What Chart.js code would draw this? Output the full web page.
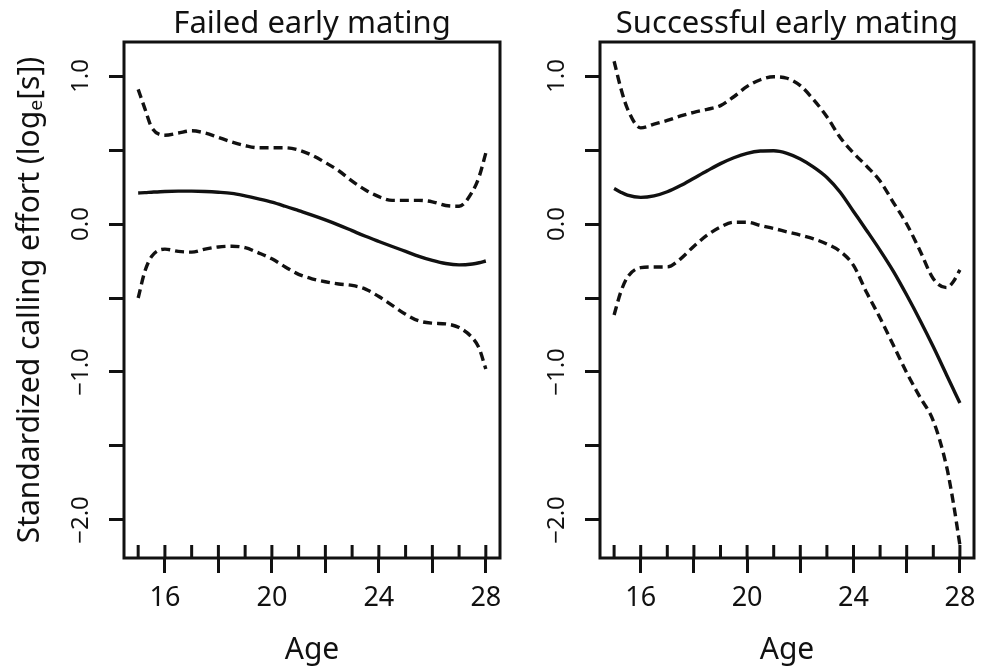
<!DOCTYPE html>
<html>
<head>
<meta charset="utf-8">
<script src="https://cdn.jsdelivr.net/npm/chart.js@4.4.1/dist/chart.umd.min.js"></script>
<style>
  html, body { margin: 0; padding: 0; background: #fff; }
  #wrap { position: relative; width: 984px; height: 669px; overflow: hidden; }
  canvas { position: absolute; top: 0; }
  #failedChart { left: 0; }
  #successChart { left: 490px; }
</style>
</head>
<body>
<div id="wrap">
  <canvas id="failedChart" width="510" height="669"></canvas>
  <canvas id="successChart" width="494" height="669"></canvas>
</div>
<script>
// ages at which the smoothed curves were read
const ages = [15, 15.25, 15.5, 16, 16.5, 17, 17.5, 18, 18.5, 19, 19.5, 20, 20.5, 21, 21.5,
  22, 22.5, 23, 23.5, 24, 24.5, 25, 25.5, 26, 26.5, 27, 27.5, 27.75, 28];

// Failed early mating
const failedFit = [0.21, 0.212, 0.215, 0.22, 0.222, 0.222, 0.22, 0.215, 0.207, 0.19, 0.17, 0.148, 0.12, 0.09, 0.06,
  0.028, -0.007, -0.045, -0.083, -0.118, -0.152, -0.185, -0.218, -0.246, -0.267, -0.276, -0.27, -0.262, -0.25];
const failedUpper = [0.91, 0.78, 0.655, 0.60, 0.615, 0.63, 0.615, 0.585, 0.555, 0.53, 0.515, 0.515, 0.515, 0.50, 0.465,
  0.415, 0.36, 0.29, 0.23, 0.185, 0.16, 0.16, 0.16, 0.15, 0.125, 0.12, 0.22, 0.32, 0.48];
const failedLower = [-0.50, -0.32, -0.22, -0.17, -0.185, -0.19, -0.17, -0.155, -0.15, -0.16, -0.195, -0.235, -0.29, -0.34, -0.37,
  -0.39, -0.405, -0.415, -0.44, -0.49, -0.55, -0.61, -0.655, -0.67, -0.675, -0.70, -0.77, -0.84, -0.98];

// Successful early mating
const successFit = [0.24, 0.215, 0.195, 0.18, 0.19, 0.218, 0.26, 0.31, 0.36, 0.408, 0.448, 0.478, 0.493, 0.495, 0.478,
  0.44, 0.385, 0.315, 0.215, 0.085, -0.045, -0.178, -0.32, -0.48, -0.65, -0.83, -1.02, -1.115, -1.21];
const successUpper = [1.10, 0.92, 0.78, 0.65, 0.675, 0.70, 0.73, 0.755, 0.775, 0.80, 0.86, 0.93, 0.975, 0.995, 0.985,
  0.935, 0.84, 0.725, 0.585, 0.48, 0.39, 0.29, 0.145, 0.0, -0.18, -0.37, -0.43, -0.39, -0.31];
const successLower = [-0.615, -0.46, -0.36, -0.295, -0.29, -0.29, -0.235, -0.15, -0.075, -0.02, 0.012, 0.012, -0.01, -0.03, -0.053,
  -0.075, -0.10, -0.135, -0.185, -0.28, -0.465, -0.635, -0.82, -1.005, -1.17, -1.33, -1.64, -1.88, -2.17];

const xTicks = [15, 16, 17, 18, 19, 20, 21, 22, 23, 24, 25, 26, 27, 28];
const xLabels = [16, 20, 24, 28];
const yTicks = [-2, -1.5, -1, -0.5, 0, 0.5, 1];
const yLabels = [-2, -1, 0, 1];

const ink = '#111';
const family = "'Noto Sans', sans-serif";

function series(vals) {
  return ages.map((a, i) => ({ x: a, y: vals[i] }));
}

// box round the plot area plus the short inward ticks on the age axis
const frame = {
  id: 'frame',
  afterDatasetsDraw(chart) {
    const { ctx, chartArea: a, scales: { x } } = chart;
    ctx.save();
    ctx.strokeStyle = ink;
    ctx.lineWidth = 3;
    ctx.strokeRect(a.left, a.top, a.right - a.left, a.bottom - a.top);
    ctx.beginPath();
    xTicks.forEach(v => {
      const px = x.getPixelForValue(v);
      ctx.moveTo(px, a.bottom);
      ctx.lineTo(px, a.bottom - 13);
    });
    ctx.stroke();
    ctx.restore();
  }
};

function makeChart(id, title, fit, upper, lower, axisWidth, yTitle) {
  const line = (vals, dashed) => ({
    data: series(vals),
    borderColor: ink,
    borderWidth: 3.4,
    borderDash: dashed ? [9, 5] : [],
    pointRadius: 0,
    cubicInterpolationMode: 'monotone',
    fill: false
  });

  return new Chart(document.getElementById(id), {
    type: 'line',
    data: { datasets: [line(upper, true), line(fit, false), line(lower, true)] },
    options: {
      responsive: false,
      animation: false,
      devicePixelRatio: 1,
      layout: { padding: { left: 0, right: 10, top: 0, bottom: 0 } },
      plugins: {
        legend: { display: false },
        tooltip: { enabled: false },
        title: {
          display: true,
          text: title,
          fullSize: false,
          color: ink,
          font: { family, size: 31, weight: 'normal', lineHeight: 1.1 },
          padding: { top: 7, bottom: 0.9 }
        }
      },
      scales: {
        x: {
          type: 'linear',
          min: 14.47,
          max: 28.53,
          afterBuildTicks: axis => { axis.ticks = xTicks.map(v => ({ value: v })); },
          afterFit: axis => { axis.height = 111; axis.paddingLeft = 0; axis.paddingRight = 0; },
          grid: {
            display: true,
            drawOnChartArea: false,
            drawTicks: true,
            tickLength: 15,
            tickWidth: 3,
            tickColor: c => (c.tick && c.tick.value % 2 === 0) ? ink : 'rgba(0,0,0,0)'
          },
          border: { display: false },
          ticks: {
            autoSkip: false,
            maxRotation: 0,
            padding: 9,
            color: ink,
            font: { family, size: 27 },
            callback: v => xLabels.includes(v) ? String(v) : ''
          },
          title: {
            display: true,
            text: 'Age',
            color: ink,
            font: { family, size: 30 },
            padding: { top: 0, bottom: 1 }
          }
        },
        y: {
          type: 'linear',
          min: -2.257,
          max: 1.23,
          afterBuildTicks: axis => { axis.ticks = yTicks.map(v => ({ value: v })); },
          afterFit: axis => { axis.width = axisWidth; axis.paddingTop = 0; axis.paddingBottom = 0; },
          grid: {
            display: true,
            drawOnChartArea: false,
            drawTicks: true,
            tickLength: 15,
            tickWidth: 3,
            tickColor: ink
          },
          border: { display: false },
          ticks: {
            autoSkip: false,
            minRotation: 90,
            maxRotation: 90,
            crossAlign: 'center',
            padding: 4,
            color: ink,
            font: { family, size: 24 },
            callback: v => yLabels.includes(v) ? v.toFixed(1).replace('-', '\u2212') : ''
          },
          title: {
            display: !!yTitle,
            text: yTitle || '',
            color: ink,
            font: { family, size: 30 },
            padding: { top: 12, bottom: 0 }
          }
        }
      }
    },
    plugins: [frame]
  });
}

makeChart('failedChart', 'Failed early mating', failedFit, failedUpper, failedLower, 124,
  'Standardized calling effort (log\u2091[s])');
makeChart('successChart', 'Successful early mating', successFit, successUpper, successLower, 110, null);
</script>
</body>
</html>
